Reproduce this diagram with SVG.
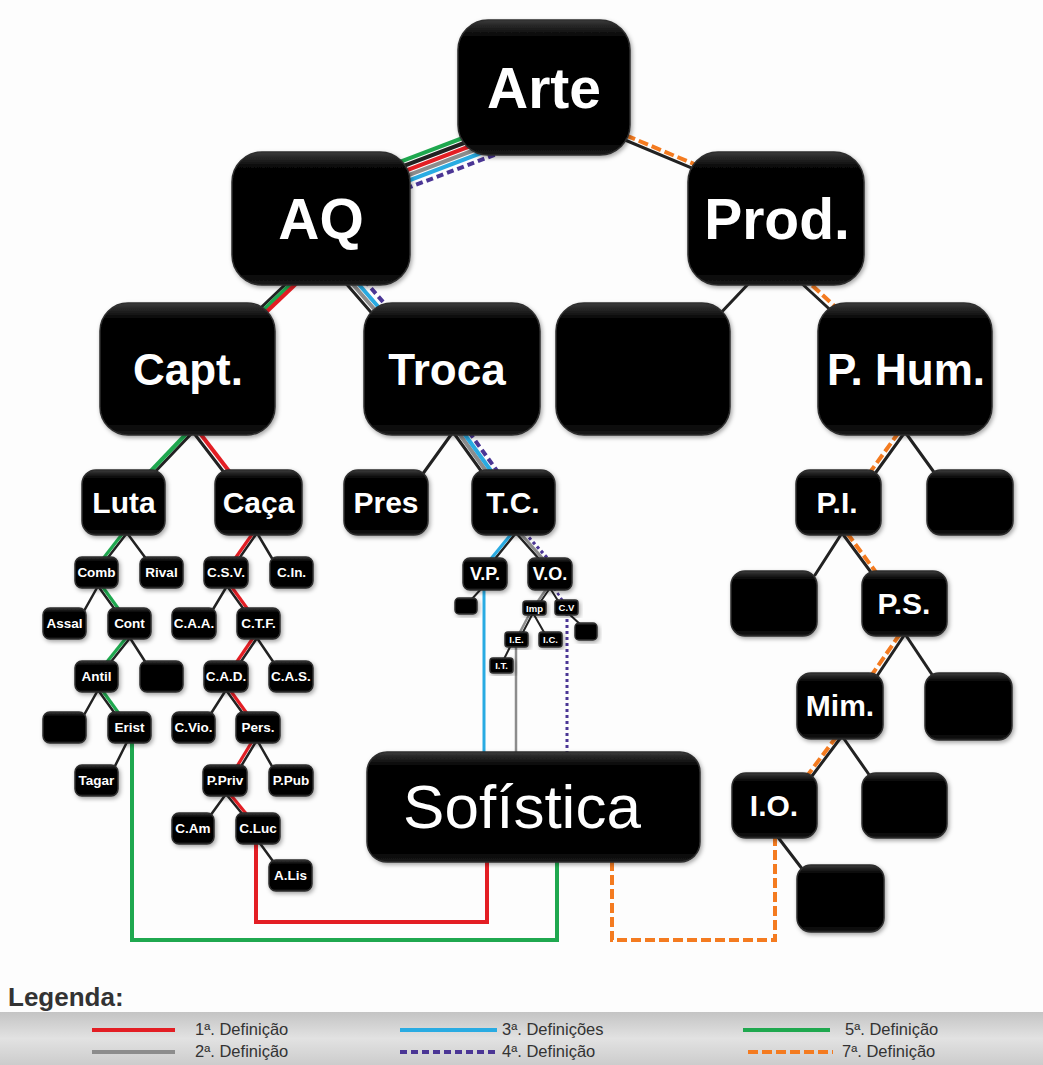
<svg xmlns="http://www.w3.org/2000/svg" width="1043" height="1065" viewBox="0 0 1043 1065">
<defs>
<linearGradient id="ng" x1="0" y1="0" x2="0" y2="1">
<stop offset="0" stop-color="#3a3a3a"/>
<stop offset="0.12" stop-color="#050505"/>
<stop offset="0.9" stop-color="#000"/>
<stop offset="1" stop-color="#1a1a1a"/>
</linearGradient>
<linearGradient id="lg" x1="0" y1="0" x2="0" y2="1">
<stop offset="0" stop-color="#c4c4c4"/>
<stop offset="0.5" stop-color="#e2e2e2"/>
<stop offset="1" stop-color="#cccccc"/>
</linearGradient>
<filter id="sh" x="-20%" y="-20%" width="140%" height="140%">
<feDropShadow dx="1.5" dy="2" stdDeviation="2" flood-color="#000" flood-opacity="0.35"/>
</filter>
</defs>
<style>
.n{fill:url(#ng);stroke:#2e2e2e;stroke-width:1.5;filter:url(#sh)}
.t{fill:#fff;font-family:"Liberation Sans",Arial,Helvetica,sans-serif;font-weight:bold;text-anchor:middle}
.big{font-size:57px}
.med{font-size:44px}
.sm{font-size:30px}
.ti{font-size:13.5px}
.vp{font-size:18px}
.mi{font-size:9.5px}
.sof{font-size:62px;font-weight:normal}
.k{stroke:#222;stroke-width:3;fill:none;stroke-linecap:round}
.c{fill:none;stroke-width:4}
.cs{fill:none;stroke-width:3.2}
.r{stroke:#e31e24}
.gy{stroke:#8c8c8c}
.b{stroke:#29abe2}
.p{stroke:#4b3695;stroke-dasharray:7 4}
.pd{stroke:#4b3695;stroke-dasharray:3 3}
.g{stroke:#1fa84f}
.o{stroke:#f47b20;stroke-dasharray:10 4}
.lt{font-family:"Liberation Sans",Arial,Helvetica,sans-serif;font-size:16.5px;fill:#333}
</style>
<rect x="0" y="0" width="1043" height="1065" fill="#fdfdfd"/>
<rect x="0" y="1012" width="1043" height="53" fill="url(#lg)"/>

<g id="connectors">
<!-- Arte - AQ bundle -->
<path class="c g" d="M375 171.3 L520 116.2"/>
<path class="c k" style="stroke-width:4" d="M375 176.8 L520 121.7"/>
<path class="c r" d="M375 182.3 L520 127.2"/>
<path class="c gy" d="M375 187.8 L520 132.7"/>
<path class="c b" d="M375 193.3 L520 138.2"/>
<path class="c p" d="M375 200.3 L520 145.2"/>
<!-- Arte - Prod -->
<path class="k" d="M600 129.5 L720 179.9"/>
<path class="c o" d="M600 124.5 L720 174.9"/>
<!-- Prod children -->
<path class="k" d="M752 280 L716 318"/>
<path class="k" d="M798 280 L839 318"/>
<path class="c o" d="M802 276 L843 314"/>
<!-- AQ - Capt -->
<path class="k" d="M290 280 L250 318"/>
<path class="c g" d="M295 280 L255 318"/>
<path class="c r" d="M300 280 L260 318"/>
<!-- AQ - Troca -->
<path class="k" d="M343 280 L376 318"/>
<path class="c gy" d="M349 280 L382 318"/>
<path class="c b" d="M355 280 L388 318"/>
<path class="c p" d="M364 280 L397 318"/>
<!-- Capt fork -->
<path class="k" d="M193 432 L152 475"/>
<path class="c g" d="M188 432 L147 475"/>
<path class="k" d="M193 432 L226 475"/>
<path class="c r" d="M199 432 L232 475"/>
<!-- Troca fork -->
<path class="k" d="M453 432 L422 475"/>
<path class="k" d="M453 432 L484 475"/>
<path class="c gy" d="M458 432 L489 475"/>
<path class="c b" d="M463 432 L494 475"/>
<path class="c p" d="M469 432 L500 475"/>
<!-- P.Hum fork -->
<path class="k" d="M905 432 L874 475"/>
<path class="c o" d="M899 432 L868 475"/>
<path class="k" d="M905 432 L936 475"/>
<!-- Luta subtree -->
<path class="k" style="stroke-width:2.5" d="M127 533 L106 560"/>
<path class="cs g" d="M123 533 L102 560"/>
<path class="k" style="stroke-width:2.5" d="M127 533 L147 560"/>
<path class="k" style="stroke-width:2.5" d="M98 586 L84 611"/>
<path class="k" style="stroke-width:2.5" d="M98 586 L116 611"/>
<path class="cs g" d="M102 586 L120 611"/>
<path class="k" style="stroke-width:2.5" d="M130 638 L110 663"/>
<path class="cs g" d="M126 638 L106 663"/>
<path class="k" style="stroke-width:2.5" d="M130 638 L146 663"/>
<path class="k" style="stroke-width:2.5" d="M98 690 L84 715"/>
<path class="k" style="stroke-width:2.5" d="M98 690 L116 715"/>
<path class="cs g" d="M102 690 L120 715"/>
<path class="k" style="stroke-width:2.5" d="M128 740 L114 768"/>
<!-- Caça subtree -->
<path class="k" style="stroke-width:2.5" d="M257 533 L238 560"/>
<path class="cs r" d="M253 533 L234 560"/>
<path class="k" style="stroke-width:2.5" d="M257 533 L273 560"/>
<path class="k" style="stroke-width:2.5" d="M227 586 L212 611"/>
<path class="k" style="stroke-width:2.5" d="M227 586 L245 611"/>
<path class="cs r" d="M231 586 L249 611"/>
<path class="k" style="stroke-width:2.5" d="M257 638 L240 663"/>
<path class="cs r" d="M253 638 L236 663"/>
<path class="k" style="stroke-width:2.5" d="M257 638 L274 663"/>
<path class="k" style="stroke-width:2.5" d="M226 690 L210 715"/>
<path class="k" style="stroke-width:2.5" d="M226 690 L244 715"/>
<path class="cs r" d="M230 690 L248 715"/>
<path class="k" style="stroke-width:2.5" d="M257 740 L240 768"/>
<path class="cs r" d="M253 740 L236 768"/>
<path class="k" style="stroke-width:2.5" d="M257 740 L273 768"/>
<path class="k" style="stroke-width:2.5" d="M226 794 L210 816"/>
<path class="k" style="stroke-width:2.5" d="M226 794 L244 816"/>
<path class="cs r" d="M230 794 L248 816"/>
<path class="k" style="stroke-width:2.5" d="M259 842 L275 864"/>
<!-- T.C. subtree -->
<path class="k" style="stroke-width:2.5" d="M516 533 L494 560"/>
<path class="cs b" d="M512 533 L490 560"/>
<path class="k" style="stroke-width:2.5" d="M516 533 L540 560"/>
<path class="cs gy" d="M520 533 L544 560"/>
<path class="cs pd" d="M525 533 L549 560"/>
<path class="k" style="stroke-width:2" d="M482 588 L470 601"/>
<path class="k" style="stroke-width:2" d="M550 588 L539 604"/>
<path class="cs gy" style="stroke-width:2.5" d="M547 588 L536 604"/>
<path class="k" style="stroke-width:2" d="M550 588 L560 604"/>
<path class="cs pd" style="stroke-width:2.5" d="M554 588 L565 604"/>
<path class="k" style="stroke-width:2" d="M533 613 L522 634"/>
<path class="cs gy" style="stroke-width:2.5" d="M530 613 L519 634"/>
<path class="k" style="stroke-width:2" d="M533 613 L545 634"/>
<path class="k" style="stroke-width:2" d="M511 645 L503 661"/>
<path class="k" style="stroke-width:2" d="M568 613 L582 626"/>
<!-- P.I. subtree -->
<path class="k" d="M842 533 L815 575"/>
<path class="k" d="M842 533 L873 575"/>
<path class="c o" d="M847 533 L878 575"/>
<path class="k" d="M905 634 L877 676"/>
<path class="c o" d="M900 634 L871 676"/>
<path class="k" d="M905 634 L933 676"/>
<path class="k" d="M842 736 L812 776"/>
<path class="c o" d="M837 736 L807 776"/>
<path class="k" d="M842 736 L870 776"/>
<path class="k" d="M777 836 L803 870"/>
<!-- to Sofística -->
<path class="c b" style="stroke-width:3" d="M484 588 V756"/>
<path class="c gy" style="stroke-width:2.5" d="M516 645 V756"/>
<path class="c pd" style="stroke-width:3" d="M567 613 V756"/>
<path class="c r" d="M256 842 V922 H487 V858"/>
<path class="c g" d="M132 740 V940 H557 V858"/>
<path class="c o" d="M775 836 V940 H612 V858"/>
</g>

<g id="n-arte"><rect class="n" x="458" y="20" width="172" height="135" rx="30"/><text class="t big" x="544" y="108">Arte</text></g>
<g id="n-aq"><rect class="n" x="232" y="152" width="178" height="133" rx="30"/><text class="t big" x="321" y="239">AQ</text></g>
<g id="n-prod"><rect class="n" x="688" y="152" width="176" height="133" rx="30"/><text class="t big" x="777" y="239">Prod.</text></g>
<g id="n-capt"><rect class="n" x="100" y="303" width="175" height="132" rx="28"/><text class="t med" x="188" y="385">Capt.</text></g>
<g id="n-troca"><rect class="n" x="364" y="303" width="176" height="132" rx="28"/><text class="t med" x="447" y="385">Troca</text></g>
<g id="n-empty1"><rect class="n" x="556" y="303" width="174" height="132" rx="28"/></g>
<g id="n-phum"><rect class="n" x="818" y="303" width="174" height="132" rx="28"/><text class="t med" x="906" y="385">P. Hum.</text></g>

<g id="n-luta"><rect class="n" x="82" y="470" width="83" height="65" rx="14"/><text class="t sm" x="124" y="513">Luta</text></g>
<g id="n-caca"><rect class="n" x="215" y="470" width="87" height="65" rx="14"/><text class="t sm" x="258.5" y="513">Caça</text></g>
<g id="n-pres"><rect class="n" x="344" y="470" width="84" height="65" rx="14"/><text class="t sm" x="386" y="513">Pres</text></g>
<g id="n-tc"><rect class="n" x="472" y="470" width="83" height="65" rx="14"/><text class="t sm" x="513" y="513">T.C.</text></g>
<g id="n-pi"><rect class="n" x="796" y="470" width="85" height="65" rx="14"/><text class="t sm" x="837" y="513">P.I.</text></g>
<g id="n-empty2"><rect class="n" x="927" y="470" width="86" height="65" rx="14"/></g>
<g id="n-empty3"><rect class="n" x="731" y="571" width="86" height="65" rx="14"/></g>
<g id="n-ps"><rect class="n" x="862" y="571" width="85" height="65" rx="14"/><text class="t sm" x="904" y="614">P.S.</text></g>
<g id="n-mim"><rect class="n" x="797" y="673" width="86" height="66" rx="14"/><text class="t sm" x="840" y="716">Mim.</text></g>
<g id="n-empty4"><rect class="n" x="925" y="673" width="87" height="67" rx="14"/></g>
<g id="n-io"><rect class="n" x="732" y="773" width="85" height="65" rx="14"/><text class="t sm" x="774" y="816">I.O.</text></g>
<g id="n-empty5"><rect class="n" x="862" y="773" width="85" height="65" rx="14"/></g>
<g id="n-empty6"><rect class="n" x="797" y="865" width="87" height="67" rx="14"/></g>

<g id="n-comb"><rect class="n" x="75" y="557" width="43" height="31" rx="7"/><text class="t ti" x="96.5" y="577">Comb</text></g>
<g id="n-rival"><rect class="n" x="140" y="557" width="43" height="31" rx="7"/><text class="t ti" x="161.5" y="577">Rival</text></g>
<g id="n-assal"><rect class="n" x="43" y="608" width="43" height="31" rx="7"/><text class="t ti" x="64.5" y="628">Assal</text></g>
<g id="n-cont"><rect class="n" x="108" y="608" width="43" height="31" rx="7"/><text class="t ti" x="129.5" y="628">Cont</text></g>
<g id="n-antil"><rect class="n" x="75" y="661" width="43" height="31" rx="7"/><text class="t ti" x="96.5" y="681">Antil</text></g>
<g id="n-empty7"><rect class="n" x="140" y="661" width="43" height="31" rx="7"/></g>
<g id="n-empty8"><rect class="n" x="43" y="712" width="43" height="31" rx="7"/></g>
<g id="n-erist"><rect class="n" x="108" y="712" width="43" height="31" rx="7"/><text class="t ti" x="129.5" y="732">Erist</text></g>
<g id="n-tagar"><rect class="n" x="75" y="765" width="43" height="31" rx="7"/><text class="t ti" x="96.5" y="785">Tagar</text></g>

<g id="n-csv"><rect class="n" x="204" y="557" width="44" height="31" rx="7"/><text class="t ti" x="226" y="577">C.S.V.</text></g>
<g id="n-cin"><rect class="n" x="270" y="557" width="43" height="31" rx="7"/><text class="t ti" x="291.5" y="577">C.In.</text></g>
<g id="n-caa"><rect class="n" x="172" y="608" width="44" height="31" rx="7"/><text class="t ti" x="194" y="628">C.A.A.</text></g>
<g id="n-ctf"><rect class="n" x="237" y="608" width="43" height="31" rx="7"/><text class="t ti" x="258.5" y="628">C.T.F.</text></g>
<g id="n-cad"><rect class="n" x="204" y="661" width="44" height="31" rx="7"/><text class="t ti" x="226" y="681">C.A.D.</text></g>
<g id="n-cas"><rect class="n" x="269" y="661" width="44" height="31" rx="7"/><text class="t ti" x="291" y="681">C.A.S.</text></g>
<g id="n-cvio"><rect class="n" x="172" y="712" width="43" height="31" rx="7"/><text class="t ti" x="193.5" y="732">C.Vio.</text></g>
<g id="n-pers"><rect class="n" x="236" y="712" width="44" height="31" rx="7"/><text class="t ti" x="258" y="732">Pers.</text></g>
<g id="n-ppriv"><rect class="n" x="203" y="765" width="44" height="31" rx="7"/><text class="t ti" x="225" y="785">P.Priv</text></g>
<g id="n-ppub"><rect class="n" x="269" y="765" width="44" height="31" rx="7"/><text class="t ti" x="291" y="785">P.Pub</text></g>
<g id="n-cam"><rect class="n" x="172" y="813" width="42" height="31" rx="7"/><text class="t ti" x="193" y="833">C.Am</text></g>
<g id="n-cluc"><rect class="n" x="236" y="813" width="44" height="31" rx="7"/><text class="t ti" x="258" y="833">C.Luc</text></g>
<g id="n-alis"><rect class="n" x="269" y="860" width="43" height="31" rx="7"/><text class="t ti" x="290.5" y="880">A.Lis</text></g>

<g id="n-vp"><rect class="n" x="463" y="558" width="44" height="32" rx="7"/><text class="t vp" x="485" y="580">V.P.</text></g>
<g id="n-vo"><rect class="n" x="528" y="558" width="44" height="32" rx="7"/><text class="t vp" x="550" y="580">V.O.</text></g>
<g id="n-empty9"><rect class="n" x="455" y="598" width="22" height="16" rx="4"/></g>
<g id="n-imp"><rect class="n" x="523" y="601" width="23" height="14" rx="3"/><text class="t mi" x="534.5" y="611.5">Imp</text></g>
<g id="n-cv"><rect class="n" x="555" y="600" width="23" height="15" rx="3"/><text class="t mi" x="566.5" y="611">C.V</text></g>
<g id="n-empty10"><rect class="n" x="575" y="623" width="22" height="17" rx="4"/></g>
<g id="n-ie"><rect class="n" x="505" y="632" width="23" height="15" rx="3"/><text class="t mi" x="516.5" y="643">I.E.</text></g>
<g id="n-ic"><rect class="n" x="539" y="632" width="23" height="15" rx="3"/><text class="t mi" x="550.5" y="643">I.C.</text></g>
<g id="n-it"><rect class="n" x="490" y="658" width="23" height="15" rx="3"/><text class="t mi" x="501.5" y="669">I.T.</text></g>

<g id="n-sofistica"><rect class="n" x="367" y="752" width="333" height="110" rx="20"/><text class="t sof" x="522" y="828">Sofística</text></g>

<g id="legend">
<text x="8" y="1006" style="font-family:'Liberation Sans',Arial,sans-serif;font-weight:bold;font-size:26px;fill:#333">Legenda:</text>
<path class="c r" d="M92 1030 H175"/>
<path class="c gy" d="M92 1052 H175"/>
<path class="c b" d="M400 1030 H497"/>
<path class="c p" d="M400 1052 H497"/>
<path class="c g" d="M743 1030 H830"/>
<path class="c o" d="M748 1052 H833"/>
<text class="lt" x="195" y="1035">1ª. Definição</text>
<text class="lt" x="195" y="1057">2ª. Definição</text>
<text class="lt" x="502" y="1035">3ª. Definições</text>
<text class="lt" x="502" y="1057">4ª. Definição</text>
<text class="lt" x="845" y="1035">5ª. Definição</text>
<text class="lt" x="842" y="1057">7ª. Definição</text>
</g>
</svg>
